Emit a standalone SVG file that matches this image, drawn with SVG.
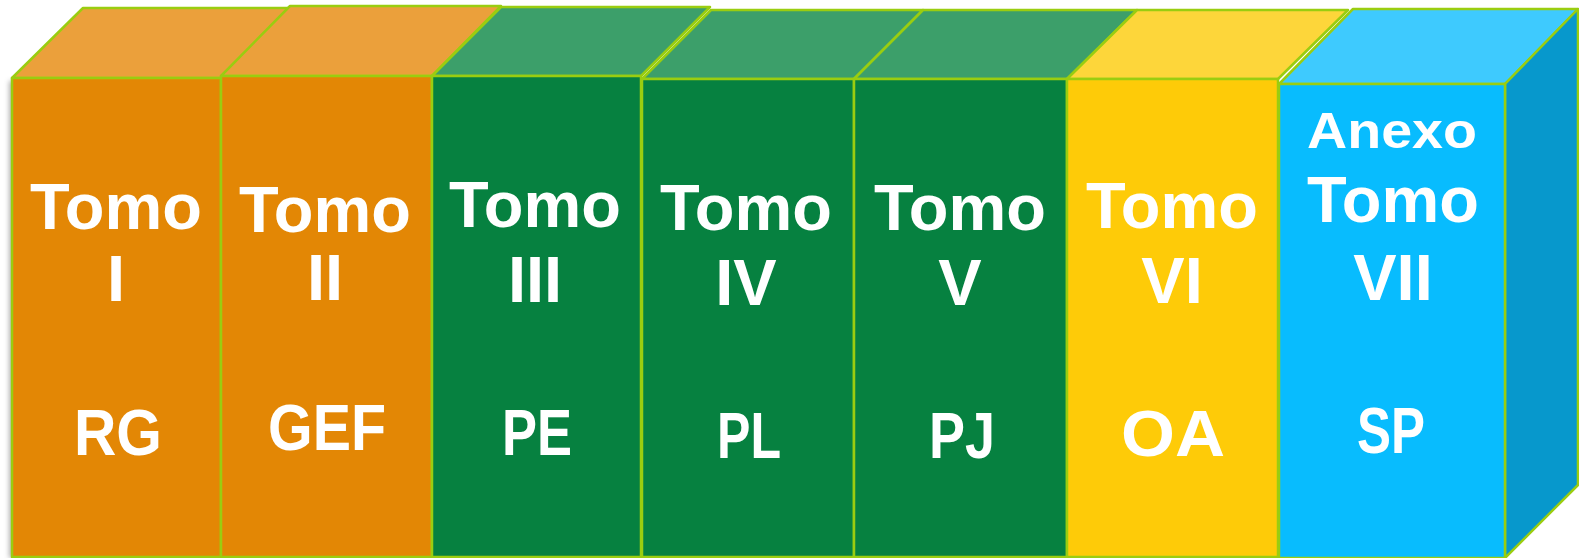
<svg xmlns="http://www.w3.org/2000/svg" width="1579" height="558" viewBox="0 0 1579 558">
<defs>
<filter id="sh" x="-5%" y="-5%" width="110%" height="110%">
<feDropShadow dx="-3" dy="1" stdDeviation="2.5" flood-color="#000" flood-opacity="0.3"/>
</filter>
</defs>
<style>
.e{stroke:#9ACD10;stroke-width:2.5;stroke-linejoin:round}
.of{fill:#E38705}.ot{fill:#EBA03B}
.gf{fill:#068140}.gt{fill:#3C9F6A}
.yf{fill:#FECB08}.yt{fill:#FDD63A}
.bf{fill:#08BCFE}.bt{fill:#3ECAFE}.bs{fill:#0798CC}
text{font-family:"Liberation Sans",Arial,sans-serif;font-weight:bold;fill:#fff;text-anchor:middle;font-size:65px}
.a{font-size:50px}
</style>
<rect x="12" y="80" width="200" height="477" fill="#fff" filter="url(#sh)"/>
<g id="tomo1">
<polygon class="e ot" points="12,78 83,8 292,8 221,78"/>
<rect class="e of" x="12" y="78" width="209" height="479"/>
<text x="116" y="229" textLength="172" lengthAdjust="spacingAndGlyphs">Tomo</text>
<text x="116" y="301">I</text>
<text x="118" y="455" textLength="88" lengthAdjust="spacingAndGlyphs">RG</text>
</g>
<g id="tomo2">
<polygon class="e ot" points="221,76 290,6 501,6 432,76"/>
<rect class="e of" x="221" y="76" width="211" height="481"/>
<text x="325" y="232" textLength="172" lengthAdjust="spacingAndGlyphs">Tomo</text>
<text x="325" y="300">II</text>
<text x="327" y="450" textLength="118" lengthAdjust="spacingAndGlyphs">GEF</text>
</g>
<g id="tomo3">
<polygon class="e gt" points="432,76 501,7 710,7 641,76"/>
<rect class="e gf" x="432" y="76" width="209" height="481"/>
<text x="535" y="227" textLength="172" lengthAdjust="spacingAndGlyphs">Tomo</text>
<text x="535" y="302">III</text>
<text x="537" y="455" textLength="70" lengthAdjust="spacingAndGlyphs">PE</text>
</g>
<g id="tomo4">
<polygon class="e gt" points="642,79 711,10 923,10 854,79"/>
<rect class="e gf" x="642" y="79" width="212" height="478"/>
<text x="746" y="230" textLength="172" lengthAdjust="spacingAndGlyphs">Tomo</text>
<text x="746" y="305">IV</text>
<text x="749" y="458" textLength="64" lengthAdjust="spacingAndGlyphs">PL</text>
</g>
<g id="tomo5">
<polygon class="e gt" points="854,79 923,10 1137,10 1067,79"/>
<rect class="e gf" x="854" y="79" width="213" height="478"/>
<text x="960" y="230" textLength="172" lengthAdjust="spacingAndGlyphs">Tomo</text>
<text x="960" y="305">V</text>
<text x="962" y="458" textLength="66" lengthAdjust="spacingAndGlyphs">PJ</text>
</g>
<g id="tomo6">
<polygon class="e yt" points="1067,79 1137,10 1348,10 1278,79"/>
<rect class="e yf" x="1067" y="79" width="211" height="478"/>
<text x="1172" y="228" textLength="172" lengthAdjust="spacingAndGlyphs">Tomo</text>
<text x="1172" y="303">VI</text>
<text x="1173" y="456" textLength="104" lengthAdjust="spacingAndGlyphs">OA</text>
</g>
<g id="tomo7">
<polygon class="e bt" points="1279,84 1353,9 1578,9 1505,84"/>
<polygon class="e bs" points="1505,84 1578,9 1578,485 1505,558"/>
<rect class="e bf" x="1279" y="84" width="226" height="474"/>
<text class="a" x="1392" y="148" textLength="170" lengthAdjust="spacingAndGlyphs">Anexo</text>
<text x="1393" y="222" textLength="172" lengthAdjust="spacingAndGlyphs">Tomo</text>
<text x="1393" y="300">VII</text>
<text x="1391" y="453" textLength="68" lengthAdjust="spacingAndGlyphs">SP</text>
</g>
</svg>
